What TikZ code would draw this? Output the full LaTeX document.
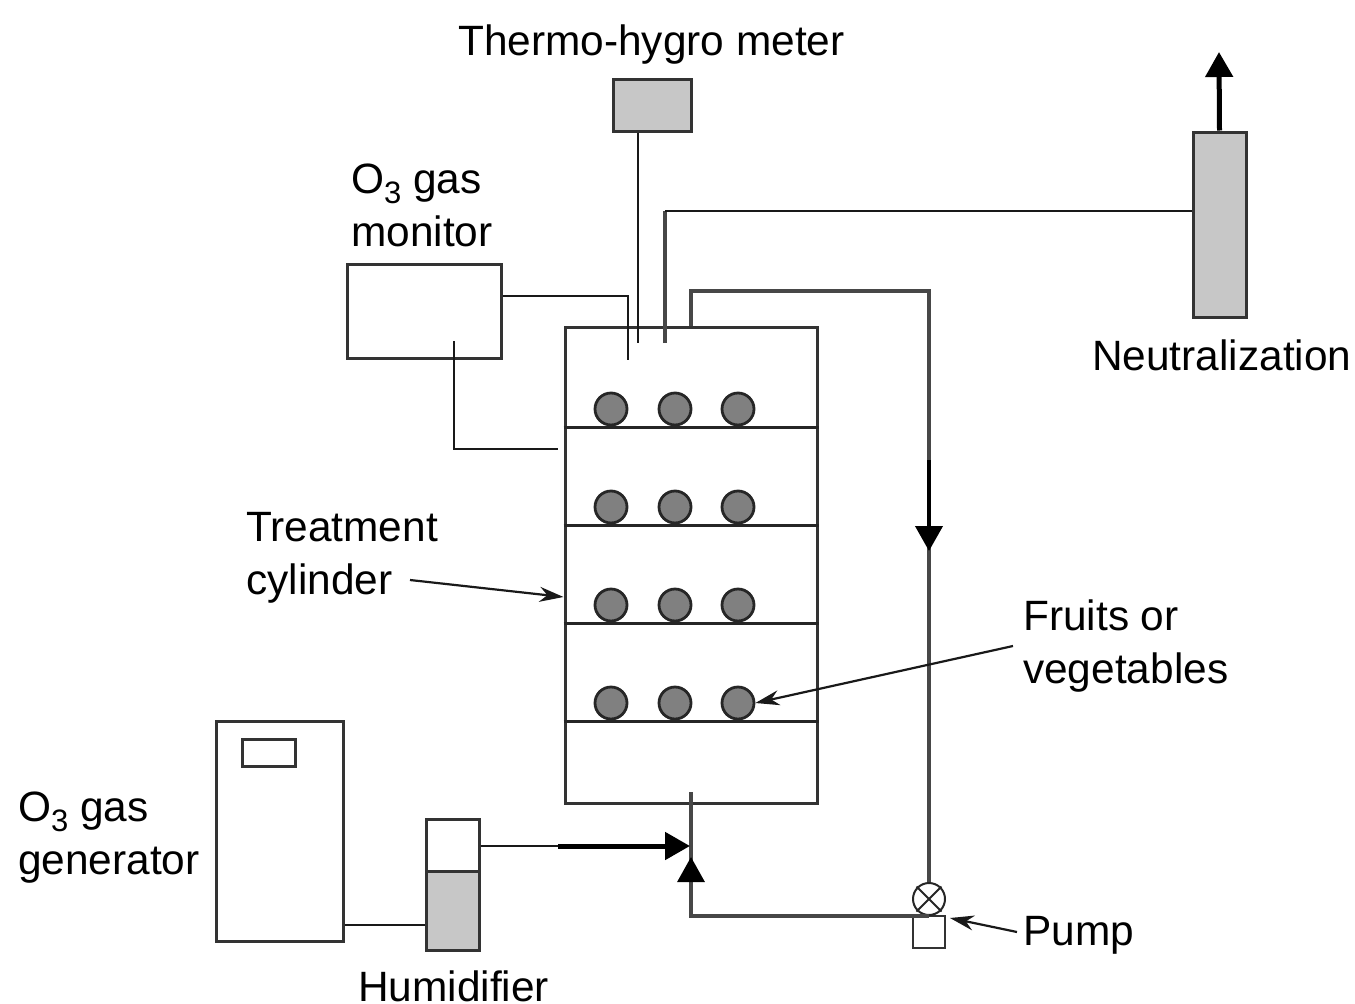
\documentclass[tikz,border=0pt]{standalone}
\usepackage{fontspec}
\setmainfont{Liberation Sans}
\usetikzlibrary{arrows.meta,shapes.misc}
\newcommand{\othree}{O\raisebox{-10pt}{\fontsize{31}{31}\selectfont 3}}
\tikzset{
  box/.style={draw=black!80,line width=3pt,inner sep=0pt},
  grayfill/.style={box,fill=black!22},
  wire/.style={line width=2.2pt,draw=black!90},
  tube/.style={line width=3.2pt,draw=black!72},
  fruit/.style={circle,draw=black!85,line width=2.8pt,fill=black!50,minimum size=32pt,inner sep=0pt},
  label/.style={inner sep=0pt,align=left,font=\fontsize{42.4}{53}\selectfont},
  bighead/.style={-{Triangle[length=25pt,width=27pt,color=black]}},
  smallhead/.style={-{Stealth[length=24pt,width=15pt]}}
}
\begin{document}
\begin{tikzpicture}[x=1pt,y=-1pt]
  \useasboundingbox (0,0) rectangle (1355,1004);
  \node[grayfill,minimum width=78pt,minimum height=52pt] (meter) at (652,105) {};
  \node[grayfill,minimum width=53pt,minimum height=185pt] (neutral) at (1219.5,224.5) {};
  \node[box,minimum width=154pt,minimum height=94pt] (monitor) at (424,311) {};
  \node[box,minimum width=252pt,minimum height=476pt] (cylinder) at (691,565) {};
  \node[box,minimum width=127pt,minimum height=220pt] (generator) at (279.5,831) {};
  \node[box,minimum width=53pt,minimum height=27pt] (window) at (268.5,752.5) {};
  \node[box,minimum width=53pt,minimum height=131pt] (humidifier) at (452.5,884.5) {};
  \node[grayfill,minimum width=53pt,minimum height=79pt] (water) at (452.5,910.5) {};
  \node[box,line width=2pt,minimum width=32pt,minimum height=32pt] (pump) at (929,932) {};
  \node[circle,cross out,draw=black!85,line width=2pt,minimum size=23pt,inner sep=0pt] (valvex) at (929,899) {};
  \node[circle,draw=black!85,line width=2pt,minimum size=32pt,inner sep=0pt] (valve) at (929,899) {};

  \foreach \row/\ypos in {1/427,2/525,3/623,4/721} {
    \draw[line width=3pt,draw=black!85] (cylinder.west |- 0,\ypos) -- (cylinder.east |- 0,\ypos);
    \foreach \col/\xpos in {1/611,2/675,3/738}
      \node[fruit] (fruit\row\col) at (\xpos,\ypos-18) {};
  }

  \coordinate (meterend) at (638,343);
  \draw[wire] (meterend |- meter.south) -- (meterend);
  \coordinate (ventbend) at (665,211);
  \coordinate (ventend) at (665,343);
  \draw[tube] (ventend) -- (ventbend);
  \draw[wire] (ventbend) -- (ventbend -| neutral.west);
  \coordinate (sensorbend) at (628,296);
  \coordinate (sensorend) at (628,360);
  \draw[wire] (sensorbend -| monitor.east) -- (sensorbend) -- (sensorend);
  \coordinate (samplestart) at (454,341);
  \coordinate (samplebend) at (454,449);
  \coordinate (sampleend) at (558,449);
  \draw[wire] (samplestart) -- (samplebend) -- (sampleend);

  \coordinate (pipetop) at (691,291);
  \draw[tube] (cylinder.north) -- (pipetop) -- (pipetop -| valve.north) -- (valve.north);
  \coordinate (flowstart) at (929,460);
  \coordinate (flowend) at (929,551);
  \draw[tube,line width=4pt,draw=black,bighead] (flowstart) -- (flowend);

  \coordinate (inlet) at (691,792);
  \coordinate (inletbend) at (691,916);
  \coordinate (inlethead) at (691,857);
  \draw[tube] (inlet) -- (inletbend) -- (inletbend -| pump.north);
  \draw[tube,bighead] (inletbend) -- (inlethead);

  \coordinate (airjoin) at (558,846);
  \coordinate (airend) at (690,846);
  \draw[wire] (airjoin -| humidifier.east) -- (airjoin);
  \draw[tube,line width=5pt,draw=black,bighead] (airjoin) -- (airend);

  \coordinate (gasjoin) at (343,925);
  \draw[wire] (gasjoin -| generator.east) -- (gasjoin -| humidifier.west);
  \coordinate (exhaust) at (1219,52);
  \draw[tube,line width=5pt,draw=black,bighead] (neutral.north) -- (exhaust);

  \node[label,anchor=base west] (metertext) at (458,55) {Thermo-hygro meter};
  \node[label,anchor=north west] (monitortext) at (351,164) {\othree{} gas\\monitor};
  \node[label,anchor=base west] (neutraltext) at (1092,370) {Neutralization};
  \node[label,anchor=north west] (cylindertext) at (246,512) {Treatment\\cylinder};
  \node[label,anchor=north west] (fruittext) at (1023,600) {Fruits or\\vegetables};
  \node[label,anchor=north west] (generatortext) at (18,792) {\othree{} gas\\generator};
  \node[label,anchor=base west] (humidifiertext) at (358,1001) {Humidifier};
  \node[label,anchor=base west] (pumptext) at (1023,945) {Pump};

  \coordinate (cylinderarrow) at (410,580);
  \draw[wire,smallhead] (cylinderarrow) -- (cylinder.west |- 0,597);
  \coordinate (fruitarrow) at (1013,646);
  \draw[wire,smallhead] (fruitarrow) -- (fruit43.east);
  \coordinate (pumparrow) at (1017,932);
  \draw[wire,smallhead] (pumparrow) -- (950,918);
\end{tikzpicture}
\end{document}
